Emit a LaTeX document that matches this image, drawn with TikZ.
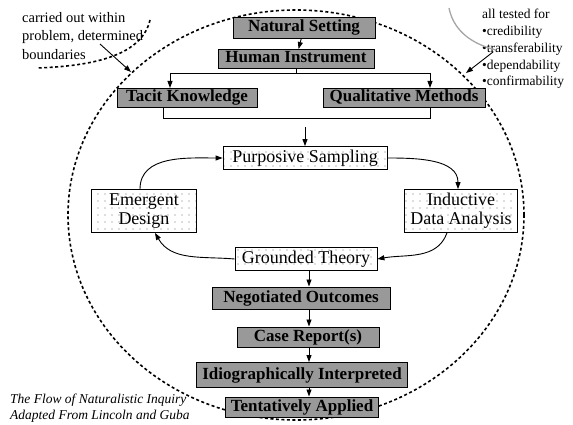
\documentclass[tikz,border=0pt]{standalone}
\usepackage{fontspec}
\setmainfont{Liberation Serif}
\usepackage{tikz}
\usetikzlibrary{arrows.meta,patterns.meta}

% light dot texture for the inner cycle boxes
\tikzdeclarepattern{
  name=sparsedots,
  type=uncolored,
  bottom left={(-1pt,-1pt)},
  top right={(1pt,1pt)},
  tile size={(7pt,7pt)},
  code={\fill (0pt,0pt) circle (0.7pt);}
}

\tikzset{
  boxfont/.style={font=\fontsize{18}{19}\selectfont},
  darkbox/.style={font=\fontsize{17}{19}\selectfont\bfseries, draw, line width=1pt, fill=black!40,
    inner xsep=1pt, inner ysep=0pt, minimum height=21pt, text height=12pt, text depth=4pt},
  dotbox/.style={boxfont, draw, line width=.8pt, preaction={fill=white}, pattern=sparsedots,
    pattern color=black!55, inner xsep=2pt, inner ysep=0pt, minimum height=23pt,
    text height=12.5pt, text depth=4pt},
  dotpair/.style={boxfont, draw, line width=.8pt, preaction={fill=white}, pattern=sparsedots,
    pattern color=black!55, align=center, minimum height=43pt},
  flow/.style={-{Triangle[length=7pt,width=5pt]}, line width=.9pt},
  rim/.style={line width=1.6pt, dash pattern=on 3pt off 2.5pt},
  note/.style={align=left, inner sep=0pt, anchor=north west}
}

\begin{document}
\begin{tikzpicture}[x=1pt, y=-1pt]
    \useasboundingbox (0,0) rectangle (573,425);

    % draw the boundary of the inquiry
    \draw[rim] (296,215) ellipse [x radius=228pt, y radius=205pt];

    % draw side notes
    \node[note, font=\fontsize{14.5}{18.5}\selectfont] (scope) at (22,12) {carried out within\\problem, determined\\boundaries};
    \node[note, font=\fontsize{13.5}{16.8}\selectfont] (tests) at (482,9) {all tested for\\•credibility\\•transferability\\•dependability\\•confirmability};
    \node[note, font=\fontsize{13.5}{16}\selectfont\itshape] (title) at (10,394) {The Flow of Naturalistic Inquiry\\Adapted From Lincoln and Guba};

    \coordinate (scopetail) at (100,44);
    \coordinate (scopetip) at (131,72);
    \coordinate (teststail) at (493,52);
    \coordinate (teststip) at (466,73);
    \draw[rim] (150,20) .. controls (142,55) and (95,66) .. (37,68);
    \draw[gray!70, line width=1.3pt] (449,8) .. controls (453,28) and (468,43) .. (496,50);
    \draw[flow] (scopetail) -- (scopetip);
    \draw[flow] (teststail) -- (teststip);

    % draw the boxes
    \node[darkbox, minimum width=142pt] (ns) at (304,28) {Natural Setting};
    \node[darkbox, minimum width=156pt, minimum height=19pt] (hi) at (296,59) {Human Instrument};
    \node[darkbox, minimum width=140pt, minimum height=19pt] (tk) at (187,98) {Tacit Knowledge};
    \node[darkbox, minimum width=162pt, minimum height=19pt] (qm) at (404,98) {Qualitative Methods};
    \node[dotbox, minimum width=164pt] (ps) at (305,158) {Purposive Sampling};
    \node[dotpair, minimum width=105pt] (ed) at (144,211) {Emergent\\Design};
    \node[dotpair, minimum width=113pt] (ida) at (461,211) {Inductive\\Data Analysis};
    \node[dotbox, minimum width=142pt] (gt) at (306,259) {Grounded Theory};
    \node[darkbox, minimum width=178pt, minimum height=22pt] (no) at (301,298) {Negotiated Outcomes};
    \node[darkbox, minimum width=142pt, minimum height=20pt] (cr) at (308,337) {Case Report(s)};
    \node[darkbox, minimum width=211pt, minimum height=25pt] (ii) at (302,375) {Idiographically Interpreted};
    \node[darkbox, minimum width=153pt, minimum height=20pt] (ta) at (302,407) {Tentatively Applied};

    % draw the forks
    \coordinate (forkl) at (170,73);
    \coordinate (forkr) at (430,73);
    \coordinate (joinl) at (163,118);
    \coordinate (joinr) at (430,118);
    \coordinate (feed) at (305,127);
    \draw[flow] (ns) -- (hi);
    \draw[line width=.9pt] (hi.south) -- (hi.south |- forkl);
    \draw[line width=.9pt] (forkl) -- (forkr);
    \draw[flow] (forkl) -- (tk.north -| forkl);
    \draw[flow] (forkr) -- (qm.north -| forkr);
    \draw[line width=.9pt] (tk.south -| joinl) -- (joinl) -- (joinr) -- (qm.south -| joinr);
    \draw[flow] (feed) -- (ps);

    % draw the cycle
    \draw[flow] ([xshift=-4pt]ed.north) to[out=90, in=180] (ps.west);
    \draw[flow] (ps.east) to[out=0, in=90] ([xshift=-3pt]ida.north);
    \draw[flow] ([xshift=-14pt]ida.south) to[out=-110, in=10] (gt.east);
    \draw[flow] (gt.west) to[out=175, in=-60] ([xshift=11pt]ed.south);

    % draw the column
    \coordinate (colx) at (309,0);
    \foreach \a/\b in {gt/no,no/cr,cr/ii,ii/ta}
      \draw[flow] (\a.south -| colx) -- (\b.north -| colx);
\end{tikzpicture}
\end{document}
